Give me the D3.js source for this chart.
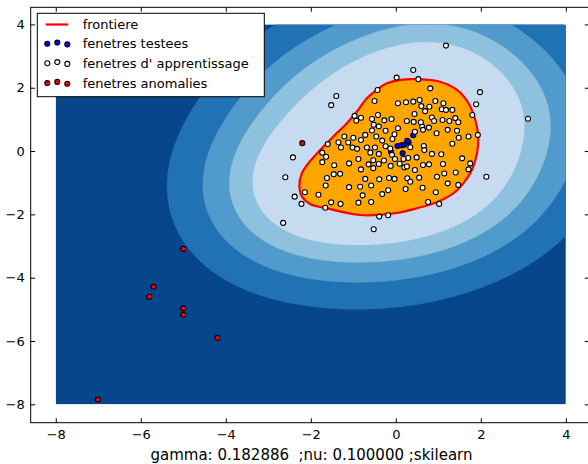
<!DOCTYPE html>
<html>
<head>
<meta charset="utf-8">
<script src="https://cdn.jsdelivr.net/npm/d3@7"></script>
<style>
  html, body { margin: 0; padding: 0; background: #fff; }
  svg { display: block; }
  text { font-family: "DejaVu Sans", sans-serif; }
</style>
</head>
<body>
<svg id="chart" width="588" height="464"></svg>
<script>
// Training windows (white), test windows (blue) and anomalous windows (red)
const trainPoints = [
  [0.02,2.32],[-1.40,1.74],[-1.52,1.45],[-0.43,1.93],[-0.50,1.58],[0.05,1.51],[0.24,1.54],
  [-2.42,-0.20],[-2.60,-0.83],[-2.38,-1.44],[-2.22,-1.67],[-2.14,-1.30],[-2.65,-2.27],[-0.52,-2.47],[-0.39,-2.07],[-0.18,-2.03],
  [-0.97,1.11],[-0.93,0.96],[-0.82,1.05],[-0.56,1.01],[-0.42,1.14],[-0.27,0.97],[-0.10,1.01],[0.26,0.95],
  [-0.52,0.83],[-0.40,0.78],[-0.24,0.64],[-0.56,0.65],[-0.72,0.51],[-0.46,0.46],[-0.82,0.35],[-1.00,0.42],[-1.21,0.46],
  [-1.35,0.28],[-1.29,0.11],[-1.12,0.27],[-1.02,0.11],[-0.91,0.07],[-1.60,0.22],[-1.73,-0.05],[-1.64,-0.18],[-1.73,-0.35],
  [-1.45,-0.45],[-1.10,-0.39],[-0.88,-0.25],[-0.82,-0.58],[-0.68,0.11],[-0.60,-0.05],[-0.49,0.11],[-0.40,-0.09],[-0.53,-0.29],
  [-0.40,-0.41],[-0.64,-0.42],[-0.53,-0.54],[-0.28,-0.30],[-0.12,-0.47],[-0.24,0.15],[-0.13,0.08],[-0.32,0.33],[-0.08,0.38],
  [-0.03,0.53],[0.05,0.72],[-0.09,-0.12],[-0.02,-0.25],[0.09,-0.40],[0.29,-0.22],
  [-1.46,-0.73],[-1.31,-0.72],[-1.62,-0.85],[-1.65,-1.09],[-1.82,-1.38],[-1.52,-1.62],[-1.30,-1.67],[-1.66,-1.79],[-1.10,-1.14],
  [-0.84,-1.13],[-0.72,-0.88],[-0.58,-1.09],[-0.78,-1.40],[-0.88,-1.63],[-0.58,-1.61],[-0.39,-0.89],[-0.32,-1.36],[-0.18,-1.24],
  [-0.16,-0.85],[-0.03,-0.88],[0.23,-1.20],[0.27,-0.86],[0.20,-0.52],
  [1.18,3.33],[0.41,2.56],[0.53,2.27],[0.81,1.98],[1.98,1.86],[1.89,1.48],[3.11,1.02],[1.80,1.14],[1.93,0.51],[1.71,0.46],
  [1.48,0.42],[1.33,0.23],[1.56,-0.23],[1.75,-0.39],[1.71,-0.58],[2.13,-0.81],[1.41,-0.68],[1.22,-1.02],[1.47,-1.07],[0.94,-1.30],
  [1.02,-1.67],[0.76,-1.61],[0.63,-1.16],[0.55,-0.84],[0.97,-0.81],[1.14,-0.71],[1.11,-0.41],[1.07,-0.10],[0.85,-0.09],[0.78,-0.42],
  [0.64,-0.44],[0.45,-0.60],[0.34,-0.97],[0.66,0.16],[0.67,0.03],[0.49,-0.20],[0.26,-0.49],[0.18,-0.25],[0.96,0.56],[1.22,0.67],
  [1.44,0.64],[1.40,1.04],[1.47,0.91],[1.26,0.95],[1.10,0.98],[0.85,1.06],[0.90,0.95],[0.78,0.74],[0.62,0.77],[0.59,0.91],
  [0.42,0.92],[0.64,0.67],[0.45,0.61],[0.44,1.17],[0.69,1.26],[0.79,1.40],[0.60,1.42],[0.56,1.61],[0.41,1.56],[0.93,1.58],
  [1.12,1.51],[1.08,1.32],[1.18,1.30],[1.33,1.30],[0.34,0.12]
];
const testPoints = [
  [-0.11,-0.03],[0.04,0.16],[0.14,0.18],[0.20,0.20],[0.30,0.28],[0.41,0.50],[0.16,-0.07],[0.27,0.32]
];
const anomalyPoints = [
  [-2.20,0.25],[-5.00,-3.09],[-5.70,-4.29],[-5.80,-4.60],[-5.00,-4.97],[-5.00,-5.17],[-4.20,-5.90],[-7.01,-7.85]
];
// Decision frontier (score = 0), traced as a closed curve
const frontier = [
  [0.53,2.27],[0.10,2.25],[-0.21,2.14],[-0.45,1.93],[-0.68,1.67],[-0.92,1.24],[-1.15,0.88],[-1.47,0.46],
  [-1.78,0.03],[-2.06,-0.39],[-2.21,-0.70],[-2.27,-1.12],[-2.21,-1.44],[-2.02,-1.67],[-1.62,-1.81],[-0.84,-2.02],
  [-0.06,-1.97],[0.49,-1.81],[0.96,-1.62],[1.36,-1.33],[1.59,-1.02],[1.79,-0.60],[1.91,-0.07],[1.94,0.45],
  [1.87,0.98],[1.71,1.51],[1.44,1.93],[1.04,2.19]
];

// Model parameters shown in the axis label
const gamma = 0.182886;
const nu = 0.1;

const xTicks = [-8, -6, -4, -2, 0, 2, 4];
const yTicks = [-8, -6, -4, -2, 0, 2, 4];
const gridExtent = [-8, 4];
const legendLabels = ["frontiere", "fenetres testees", "fenetres d' apprentissage", "fenetres anomalies"];
const xLabel = "gamma: 0.182886  ;nu: 0.100000 ;skilearn";
// Blues_r band colours, darkest (lowest score) first
const bandColors = ["#08468c", "#2171b5", "#509bcb", "#8dc1dd", "#c6dbef"];
// Lower edge of each band, as a fraction of the way from the minimum score to the frontier
const bandFractions = [0, 1 / 6, 2.2 / 6, 3.4 / 6, 4.5 / 6];

// ---- One-class SVM (RBF kernel), solved with a small SMO loop ----
function rbf(a, b) {
  const dx = a[0] - b[0], dy = a[1] - b[1];
  return Math.exp(-gamma * (dx * dx + dy * dy));
}
function trainOneClass(X) {
  const n = X.length, C = 1, total = nu * n;
  const K = new Float64Array(n * n);
  for (let i = 0; i < n; i++) for (let j = i; j < n; j++) {
    const k = rbf(X[i], X[j]); K[i * n + j] = k; K[j * n + i] = k;
  }
  const alpha = new Float64Array(n);
  const nFull = Math.floor(total);
  for (let i = 0; i < nFull; i++) alpha[i] = C;
  if (nFull < n) alpha[nFull] = total - nFull;
  const G = new Float64Array(n);
  for (let i = 0; i < n; i++) {
    let s = 0; for (let j = 0; j < n; j++) s += K[i * n + j] * alpha[j]; G[i] = s;
  }
  for (let iter = 0; iter < 200000; iter++) {
    let gmax = -Infinity, gmin = Infinity, ii = -1, jj = -1;
    for (let t = 0; t < n; t++) {
      if (alpha[t] < C && -G[t] > gmax) { gmax = -G[t]; ii = t; }
      if (alpha[t] > 0 && -G[t] < gmin) { gmin = -G[t]; jj = t; }
    }
    if (gmax - gmin < 1e-7) break;
    let quad = K[ii * n + ii] + K[jj * n + jj] - 2 * K[ii * n + jj];
    if (quad <= 1e-12) quad = 1e-12;
    let d = (G[jj] - G[ii]) / quad;
    d = Math.min(d, C - alpha[ii], alpha[jj]);
    alpha[ii] += d; alpha[jj] -= d;
    for (let t = 0; t < n; t++) G[t] += d * (K[ii * n + t] - K[jj * n + t]);
  }
  const sv = [];
  for (let t = 0; t < n; t++) if (alpha[t] > 1e-9) sv.push({ p: X[t], a: alpha[t] });
  return p => { let s = 0; for (const v of sv) s += v.a * rbf(v.p, p); return s; };
}
const score = trainOneClass(trainPoints);
// Offset so that the traced frontier sits at decision value 0
const rho = d3.mean(frontier, score);
const decision = p => score(p) - rho;

// ---- Layout ----
const svg = d3.select("#chart");
const xScale = d3.scaleLinear([-8.59, 4.55], [30.7, 589.2]);
const yScale = d3.scaleLinear([-8.58, 4.54], [422.7, 7.3]);

// Decision function sampled on cell centres over the grid extent
const N = 240;
const step = (gridExtent[1] - gridExtent[0]) / N;
const Z = new Float64Array(N * N);
for (let j = 0; j < N; j++) for (let i = 0; i < N; i++) {
  Z[j * N + i] = decision([gridExtent[0] + (i + 0.5) * step, gridExtent[0] + (j + 0.5) * step]);
}
const zmin = d3.min(Z);
const blueLevels = bandFractions.map(f => zmin + f * (0 - zmin));

const proj = d3.geoTransform({
  point(gx, gy) {
    this.stream.point(xScale(gridExtent[0] + gx * step), yScale(gridExtent[0] + gy * step));
  }
});
const path = d3.geoPath(proj);
const contourGen = d3.contours().size([N, N]);

svg.append("clipPath").attr("id", "gridClip").append("rect")
  .attr("x", xScale(gridExtent[0])).attr("y", yScale(gridExtent[1]))
  .attr("width", xScale(gridExtent[1]) - xScale(gridExtent[0]))
  .attr("height", yScale(gridExtent[0]) - yScale(gridExtent[1]));

const field = svg.append("g").attr("clip-path", "url(#gridClip)");
field.selectAll("path.band")
  .data(contourGen.thresholds(blueLevels)(Z))
  .join("path").attr("class", "band")
  .attr("d", path)
  .attr("fill", (d, i) => bandColors[i])
  .attr("stroke", (d, i) => bandColors[i]).attr("stroke-width", 0.3);

// Inlier region and its frontier
const frontierLine = d3.line()
  .x(d => xScale(d[0])).y(d => yScale(d[1]))
  .curve(d3.curveCatmullRomClosed.alpha(0.5));
field.append("path").attr("d", frontierLine(frontier)).attr("fill", "orange");
field.append("path").attr("d", frontierLine(frontier))
  .attr("fill", "none").attr("stroke", "red").attr("stroke-width", 2.2).attr("stroke-linejoin", "round");

// Points
function scatter(data, color) {
  svg.append("g").selectAll("circle").data(data).join("circle")
    .attr("cx", d => xScale(d[0])).attr("cy", d => yScale(d[1])).attr("r", 2.5)
    .attr("fill", color).attr("stroke", "black").attr("stroke-width", 1.1);
}
scatter(testPoints, "blue");
scatter(trainPoints, "white");
scatter(anomalyPoints, "red");

// Axes frame and inward ticks on all four sides
const tickLen = 4.4;
const axisBottomGen = d3.axisBottom(xScale).tickValues(xTicks).tickSizeInner(-tickLen).tickSizeOuter(0).tickPadding(7);
const axisLeftGen = d3.axisLeft(yScale).tickValues(yTicks).tickSizeInner(-tickLen).tickSizeOuter(0).tickPadding(6);
const axisTopGen = d3.axisTop(xScale).tickValues(xTicks).tickSizeInner(-tickLen).tickSizeOuter(0).tickFormat("");
const axisRightGen = d3.axisRight(yScale).tickValues(yTicks).tickSizeInner(-tickLen).tickSizeOuter(0).tickFormat("");
function styleAxis(g) {
  g.select(".domain").remove();
  g.selectAll("line").attr("stroke", "black").attr("stroke-width", 1);
  g.selectAll("text").attr("fill", "black").style("font-family", "DejaVu Sans").style("font-size", "13px");
}
svg.append("g").attr("transform", `translate(0,${yScale.range()[0]})`).call(axisBottomGen).call(styleAxis);
svg.append("g").attr("transform", `translate(${xScale.range()[0]},0)`).call(axisLeftGen).call(styleAxis);
svg.append("g").attr("transform", `translate(0,${yScale.range()[1]})`).call(axisTopGen).call(styleAxis);
svg.append("g").attr("transform", `translate(${xScale.range()[1]},0)`).call(axisRightGen).call(styleAxis);
svg.append("rect")
  .attr("x", xScale.range()[0]).attr("y", yScale.range()[1])
  .attr("width", xScale.range()[1] - xScale.range()[0]).attr("height", yScale.range()[0] - yScale.range()[1])
  .attr("fill", "none").attr("stroke", "black").attr("stroke-width", 1);

svg.append("text")
  .attr("x", 311.5).attr("y", 460)
  .attr("text-anchor", "middle").style("white-space", "pre")
  .style("font-size", "15px").attr("fill", "black")
  .text(xLabel);

// Legend
const lg = svg.append("g").attr("transform", "translate(37.3,13.3)");
lg.append("rect").attr("width", 227).attr("height", 83.4).attr("fill", "white").attr("stroke", "black").attr("stroke-width", 1);
const rowY = [11.2, 30.5, 50, 69.8];
const markerX = [10, 20, 30];
const markerDy = [0, -1.2, 0.6];
lg.append("line").attr("x1", 8.4).attr("x2", 31).attr("y1", rowY[0]).attr("y2", rowY[0])
  .attr("stroke", "red").attr("stroke-width", 2.2);
[["blue", 1], ["white", 2], ["red", 3]].forEach(([c, r]) => {
  markerX.forEach((mx, k) => {
    lg.append("circle").attr("cx", mx).attr("cy", rowY[r] + markerDy[k]).attr("r", 2.5)
      .attr("fill", c).attr("stroke", "black").attr("stroke-width", 1.1);
  });
});
legendLabels.forEach((t, i) => {
  lg.append("text").attr("x", 45.4).attr("y", rowY[i]).attr("dy", "0.35em")
    .style("font-size", "13px").attr("fill", "black").text(t);
});
</script>
</body>
</html>
